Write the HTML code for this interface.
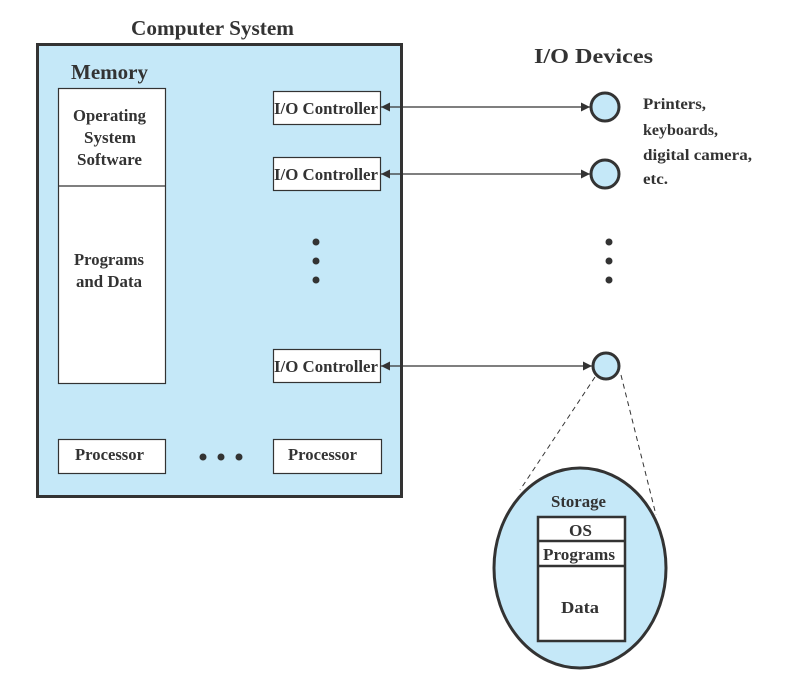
<!DOCTYPE html>
<html><head><meta charset="utf-8"><style>
html,body{margin:0;padding:0;background:#fff;}
svg{display:block;}
text{font-family:"Liberation Serif",serif;font-weight:bold;fill:#333;}
</style></head><body>
<svg width="786" height="689" viewBox="0 0 786 689">
<defs>
<marker id="a" viewBox="0 0 10 10" refX="10" refY="5" markerWidth="9" markerHeight="9" orient="auto-start-reverse" markerUnits="userSpaceOnUse"><path d="M0,0 L10,5 L0,10 z" fill="#333"/></marker>
</defs>
<text x="131" y="35" font-size="21" textLength="163" lengthAdjust="spacingAndGlyphs">Computer System</text>
<text x="534" y="63" font-size="21" textLength="119" lengthAdjust="spacingAndGlyphs">I/O Devices</text>
<rect x="37.5" y="44.5" width="364" height="452" fill="#c5e8f8" stroke="#333" stroke-width="3"/>
<text x="71" y="79" font-size="21" textLength="77" lengthAdjust="spacingAndGlyphs">Memory</text>
<rect x="58.5" y="88.5" width="107" height="295" fill="#fff" stroke="#333" stroke-width="1.2"/>
<line x1="58.5" y1="186" x2="165.5" y2="186" stroke="#333" stroke-width="1.2"/>
<g font-size="17" lengthAdjust="spacingAndGlyphs">
<text x="73" y="121" textLength="73" lengthAdjust="spacingAndGlyphs">Operating</text>
<text x="84" y="143" textLength="52" lengthAdjust="spacingAndGlyphs">System</text>
<text x="77" y="165" textLength="65" lengthAdjust="spacingAndGlyphs">Software</text>
<text x="74" y="265" textLength="70" lengthAdjust="spacingAndGlyphs">Programs</text>
<text x="76" y="287" textLength="66" lengthAdjust="spacingAndGlyphs">and Data</text>
</g>
<g stroke="#333" stroke-width="1.2" fill="#fff">
<rect x="273.5" y="91.5" width="107" height="33"/>
<rect x="273.5" y="157.5" width="107" height="33"/>
<rect x="273.5" y="349.5" width="107" height="33"/>
<rect x="58.5" y="439.5" width="107" height="34"/>
<rect x="273.5" y="439.5" width="108" height="34"/>
</g>
<g font-size="17">
<text x="274" y="114" textLength="104" lengthAdjust="spacingAndGlyphs">I/O Controller</text>
<text x="274" y="180" textLength="104" lengthAdjust="spacingAndGlyphs">I/O Controller</text>
<text x="274" y="372" textLength="104" lengthAdjust="spacingAndGlyphs">I/O Controller</text>
<text x="75" y="460" textLength="69" lengthAdjust="spacingAndGlyphs">Processor</text>
<text x="288" y="460" textLength="69" lengthAdjust="spacingAndGlyphs">Processor</text>
</g>
<g fill="#333">
<circle cx="316" cy="242" r="3.5"/><circle cx="316" cy="261" r="3.5"/><circle cx="316" cy="280" r="3.5"/>
<circle cx="609" cy="242" r="3.5"/><circle cx="609" cy="261" r="3.5"/><circle cx="609" cy="280" r="3.5"/>
<circle cx="203" cy="457" r="3.5"/><circle cx="221" cy="457" r="3.5"/><circle cx="239" cy="457" r="3.5"/>
</g>
<g stroke="#333" stroke-width="1.3" marker-start="url(#a)" marker-end="url(#a)">
<line x1="381" y1="107" x2="590" y2="107"/>
<line x1="381" y1="174" x2="590" y2="174"/>
<line x1="381" y1="366" x2="592" y2="366"/>
</g>
<g fill="#c5e8f8" stroke="#333" stroke-width="3">
<circle cx="605" cy="107" r="14"/>
<circle cx="605" cy="174" r="14"/>
<circle cx="606" cy="366" r="13"/>
</g>
<g font-size="16">
<text x="643" y="109" textLength="63" lengthAdjust="spacingAndGlyphs">Printers,</text>
<text x="643" y="135" textLength="75" lengthAdjust="spacingAndGlyphs">keyboards,</text>
<text x="643" y="160" textLength="109" lengthAdjust="spacingAndGlyphs">digital camera,</text>
<text x="643" y="184" textLength="25" lengthAdjust="spacingAndGlyphs">etc.</text>
</g>
<g stroke="#333" stroke-width="1" stroke-dasharray="5,4">
<line x1="595" y1="377" x2="520" y2="490"/>
<line x1="621" y1="375" x2="656" y2="515"/>
</g>
<ellipse cx="580" cy="568" rx="86" ry="100" fill="#c5e8f8" stroke="#333" stroke-width="3"/>
<text x="551" y="507" font-size="17" textLength="55" lengthAdjust="spacingAndGlyphs">Storage</text>
<rect x="538" y="517" width="87" height="124" fill="#fff" stroke="#333" stroke-width="2.5"/>
<line x1="538" y1="541" x2="625" y2="541" stroke="#333" stroke-width="2.5"/>
<line x1="538" y1="566" x2="625" y2="566" stroke="#333" stroke-width="2.5"/>
<g font-size="17">
<text x="569" y="536" textLength="23" lengthAdjust="spacingAndGlyphs">OS</text>
<text x="543" y="560" textLength="72" lengthAdjust="spacingAndGlyphs">Programs</text>
<text x="561" y="613" textLength="38" lengthAdjust="spacingAndGlyphs">Data</text>
</g>
</svg>
</body></html>
